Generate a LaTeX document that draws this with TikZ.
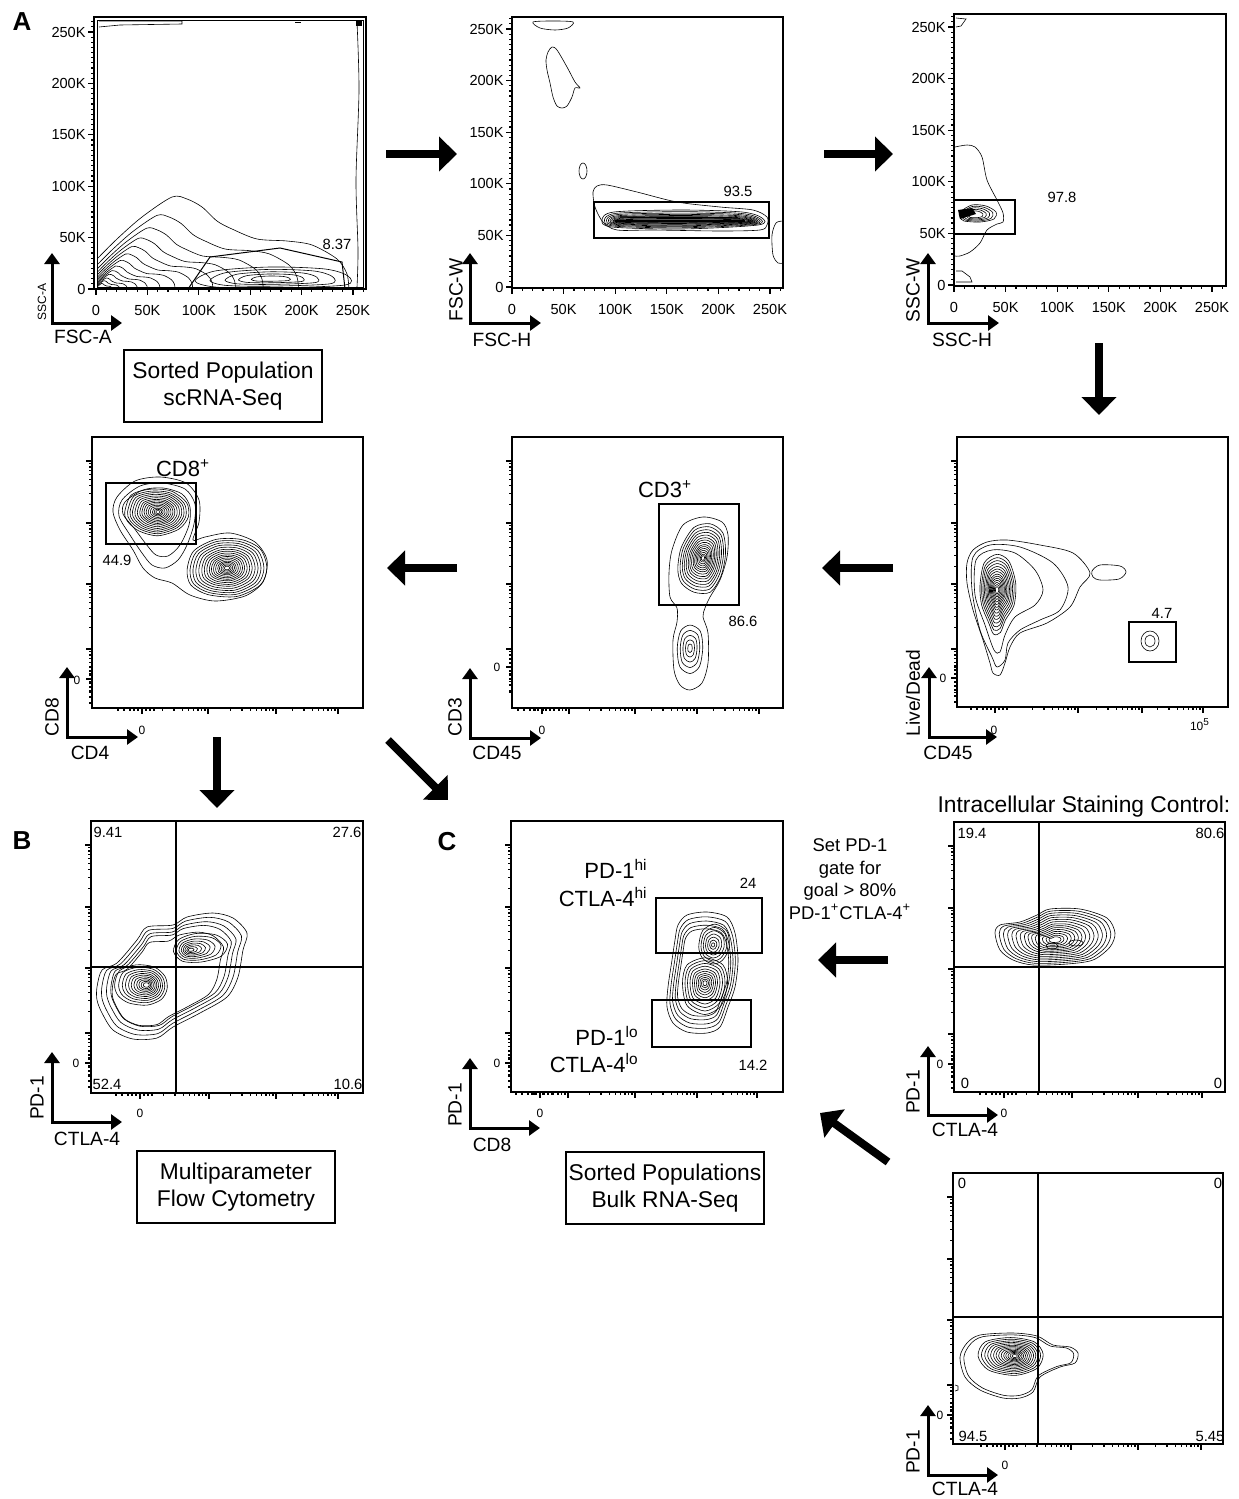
\documentclass[tikz,border=0pt]{standalone}
\usepackage{fontspec}
\setmainfont{Liberation Sans}
\usetikzlibrary{arrows.meta}

\tikzset{
  frame/.style={line width=0.8pt},
  gate/.style={line width=0.8pt},
  contour/.style={line width=0.3pt},
  quad/.style={line width=0.6pt},
  tk/.style={line width=0.6pt},
  axarrow/.style={line width=1.5pt, {Triangle[width=7.5pt,length=5.5pt]}-{Triangle[width=7.5pt,length=5.5pt]}},
  bigarrow/.style={line width=4pt, -{Triangle[width=17pt,length=9pt]}},
  tklbl/.style={font=\fontsize{7.3}{8}\selectfont, inner sep=1pt},
  numlbl/.style={font=\fontsize{7.4}{9}\selectfont, inner sep=0pt},
  zlbl/.style={font=\fontsize{6}{7}\selectfont, inner sep=0pt},
  axlbl/.style={font=\fontsize{9.6}{11}\selectfont, inner sep=0pt},
  poplbl/.style={font=\fontsize{11}{13}\selectfont, inner sep=0pt},
  boxlbl/.style={draw, line width=0.7pt, minimum width=99pt, minimum height=36pt, inner sep=0pt, align=center, font=\fontsize{11.4}{13.5}\selectfont},
  panlbl/.style={font=\fontsize{13}{15}\selectfont\bfseries, inner sep=0pt},
}

% nested contours round a centre
\newcommand{\cfam}[3]{\foreach \s in {#2} \draw[contour, shift={#1}, scale=\s] plot[smooth cycle] coordinates {#3};}

% linear axes: box left, box bottom, x of 0, y of 0, step, name
\newcommand{\linaxes}[6]{%
  \foreach \i/\lb in {0/0,1/50K,2/100K,3/150K,4/200K,5/250K} {
    \draw[tk] (#1,{#4-\i*#5}) -- ++(-6,0);
    \node[tklbl, anchor=east] (#6y\i) at ({#1-6},{#4-\i*#5}) {\lb};
    \draw[tk] ({#3+\i*#5},#2) -- ++(0,6);
    \node[tklbl] (#6x\i) at ({#3+\i*#5},{#2+21}) {\lb};
  }
  \foreach \j in {1,...,52} \draw[tk] (#1,{#4-\j*#5/10}) -- ++(-3,0);
  \foreach \j in {1,...,26} \draw[tk] ({#3+\j*#5/5},#2) -- ++(0,3);
}

% log axes: left, top, y zero, x zero, x majors, height
\newcommand{\logaxes}[6]{%
  \foreach \m in {24,86,147,212} {
    \draw[tk] (#1,#2+\m) -- ++(-6,0);
    \foreach \k in {2,...,9} \draw[tk] (#1,{#2+\m+62-62*log10(\k)}) -- ++(-3,0);
  }
  \draw[tk] (#1,#2+#3) -- ++(-6,0);
  \foreach \d in {-12,-8,-4,4,8,12,18,24} \draw[tk] (#1,{#2+#3+(\d)}) -- ++(-3,0);
  \foreach \m in {#5} {
    \draw[tk] (#1+\m,#2+#6) -- ++(0,6);
    \foreach \k in {2,...,9} \draw[tk] ({#1+\m-65+65*log10(\k)},#2+#6) -- ++(0,3);
  }
  \draw[tk] (#1+#4,#2+#6) -- ++(0,6);
  \foreach \d in {-24,-18,-12,-8,-4,4,8,12} \draw[tk] ({#1+#4+(\d)},#2+#6) -- ++(0,3);
}

\begin{document}
\begin{tikzpicture}[x=0.5pt,y=-0.5pt]
\useasboundingbox (0,0) rectangle (1238,1499);

%% ---------- A: FSC-A / SSC-A
\node[panlbl] (labA) at (22,22) {A};
\draw[frame] (94,17) rectangle (366,289);
\draw[contour] (97,20) rectangle (363,287);
\linaxes{94}{289}{96}{289}{51.4}{pa}
\begin{scope}
  \clip (97,20) rectangle (363,287);
  \foreach \s in {1,.8,.66,.55,.46,.38,.31,.25,.2,.16,.12,.09,.06}
    \draw[contour, shift={(97,289)}, scale=\s] plot[smooth] coordinates {(0,-30) (20,-50) (45,-72) (75,-92) (90,-90) (105,-82) (120,-68) (135,-60) (160,-50) (190,-48) (215,-44) (240,-30) (250,-15) (252,2)};
  \cfam{(270,279)}{1,.8,.6,.42,.25}{(-75,2) (-55,-8) (0,-12) (55,-10) (78,-3) (75,6) (0,9) (-55,8)}
\end{scope}
\draw[contour] (99,21) -- (182,21) -- (182,24) -- (120,25) -- (99,27);
\draw[contour] (295,22) -- (301,22);
\draw[contour] plot[smooth] coordinates {(357,22) (359,90) (356,180) (358,250) (357,287)};
\fill (356,21) rectangle (362,26);
\draw[line width=0.5pt] (188,289) -- (210,257) -- (280,248) -- (342,262) -- (345,289);
\node[numlbl] (gA) at (337,244) {8.37};
\draw[axarrow] (52,253) -- (52,323) -- (122,323);
\node[axlbl, font=\fontsize{6}{7}\selectfont, rotate=90] (yA) at (42,302) {SSC-A};
\node[axlbl] (xA) at (83,337) {FSC-A};
\node[boxlbl] (boxA) at (223,386) {Sorted Population\\scRNA-Seq};

%% ---------- FSC-H / FSC-W
\draw[frame] (512,17) rectangle (783,288);
\linaxes{512}{288}{512}{287}{51.6}{pb}
\draw[contour] plot[smooth cycle] coordinates {(533,22) (553,21) (573,22) (568,28) (555,30) (540,28)};
\draw[contour] plot[smooth cycle] coordinates {(552,47) (557,50) (567,67) (575,82) (580,88) (575,88) (572,97) (567,106) (562,108) (557,106) (553,97) (550,83) (547,70) (546,60) (548,52)};
\draw[contour] (583,171) ellipse [x radius=4, y radius=8];
\draw[contour] plot[smooth cycle] coordinates {(593,192) (597,186) (607,185) (637,192) (677,202) (720,207) (753,210) (767,217) (767,225) (760,230) (720,231) (653,230) (617,230) (603,222) (595,207)};
\foreach \t in {1,.85,.72,.6,.5,.4,.31,.23,.16}
  \draw[contour, shift={(682,221)}, xscale={0.8+0.2*\t}, yscale=\t] plot[smooth cycle] coordinates {(-80,-1) (-68,-9) (0,-11) (60,-9) (80,-3) (76,4) (0,8) (-70,6)};
\draw[line width=1pt] (615,221) -- (745,221);
\draw[line width=0.7pt] (622,217) -- (738,218);
\draw[contour] plot[smooth] coordinates {(783,221) (776,223) (772,235) (773,255) (778,263) (783,263)};
\draw[gate] (594,202) rectangle (769,238);
\node[numlbl] (gB) at (738,191) {93.5};
\draw[axarrow] (470,253) -- (470,323) -- (541,323);
\node[axlbl, rotate=90] (yB) at (456,290) {FSC-W};
\node[axlbl] (xB) at (502,340) {FSC-H};

%% ---------- SSC-H / SSC-W
\draw[frame] (954,14) rectangle (1226,286);
\linaxes{954}{286}{954}{285}{51.6}{pc}
\draw[contour] (956,18) -- (966,19) -- (961,26) -- (956,27);
\draw[contour] plot[smooth] coordinates {(955,147) (967,145) (975,147) (982,157) (987,180) (997,200) (1003,213) (1003,222) (997,224) (987,230) (980,243) (970,252) (960,256) (955,256)};
\cfam{(974,215)}{1,.85,.7,.55,.4}{(-14,-3) (-2,-10) (12,-9) (22,-3) (20,4) (6,7) (-10,6) (-14,2)}
\fill (958,210) -- (972,208) -- (976,214) -- (960,219) -- cycle;
\draw[contour] (956,271) -- (962,271) -- (970,277) -- (972,282) -- (956,282);
\draw[gate] (954,200) rectangle (1015,234);
\node[numlbl] (gC) at (1062,197) {97.8};
\draw[axarrow] (928,253) -- (928,323) -- (999,323);
\node[axlbl, rotate=90] (yC) at (913,290) {SSC-W};
\node[axlbl] (xC) at (962,340) {SSC-H};

%% ---------- CD45 / Live-Dead
\draw[frame] (957,437) rectangle (1228,707);
\logaxes{957}{437}{241}{38}{121,185,246}{270}
\draw[contour] plot[smooth cycle] coordinates {(967,563) (973,550) (987,542) (1007,540) (1040,545) (1073,553) (1090,573) (1080,587) (1070,607) (1047,623) (1020,633) (1010,647) (1005,663) (1000,675) (993,673) (990,663) (983,640) (973,610) (967,583)};
\draw[contour] plot[smooth cycle] coordinates {(973,557) (990,545) (1020,547) (1053,563) (1068,587) (1060,610) (1040,620) (1020,630) (1008,643) (1005,660) (997,667) (992,657) (980,630) (972,590)};
\draw[contour] plot[smooth cycle] coordinates {(976,560) (992,550) (1015,553) (1035,570) (1043,590) (1035,605) (1015,617) (1005,635) (1000,652) (994,650) (985,625) (975,595)};
\cfam{(997,590)}{.85,.77,.7,.63,.56,.5,.44,.38,.33,.28,.23,.18,.13,.08}{(-20,-5) (-15,-32) (0,-42) (14,-34) (22,-8) (20,18) (10,35) (4,50) (-4,52) (-10,38) (-18,18)}
\draw[contour] plot[smooth cycle] coordinates {(1092,571) (1100,565) (1120,566) (1126,572) (1119,579) (1100,580) (1093,577)};
\draw[contour] (1150,641) ellipse [x radius=9, y radius=10];
\draw[contour] (1150,641) ellipse [x radius=5, y radius=6];
\draw[gate] (1129,622) rectangle (1176,662);
\node[numlbl] (gLD) at (1162,613) {4.7};
\node[zlbl] (zyLD) at (943,678) {0};
\node[zlbl] (zxLD) at (994,730) {0};
\node[zlbl] (tLD) at (1200,725) {10\textsuperscript{5}};
\draw[axarrow] (929,667) -- (929,737) -- (997,737);
\node[axlbl, rotate=90] (yLD) at (913,693) {Live/Dead};
\node[axlbl] (xLD) at (948,753) {CD45};

%% ---------- CD45 / CD3
\draw[frame] (512,437) rectangle (783,708);
\logaxes{512}{437}{230}{30}{57,123,185,247}{271}
\draw[contour] plot[smooth cycle] coordinates {(683,525) (703,517) (722,522) (728,535) (727,557) (720,580) (710,597) (705,608) (703,617) (708,633) (708,663) (702,683) (690,690) (680,685) (674,670) (673,640) (677,622) (677,608) (670,597) (669,573) (672,550)};
\cfam{(703,558)}{.9,.82,.74,.67,.6,.53,.47,.41,.35,.3,.25,.2,.15,.1,.06}{(-28,12) (-24,-12) (-10,-34) (8,-38) (22,-28) (25,-5) (20,20) (8,38) (-10,38) (-24,28)}
\cfam{(690,648)}{.85,.65,.47,.3,.15}{(-15,0) (-11,-20) (0,-27) (12,-20) (15,0) (11,22) (0,30) (-12,22)}
\draw[gate] (659,504) rectangle (739,605);
\node[poplbl] (pCD3) at (665,489) {CD3\textsuperscript{+}};
\node[numlbl] (gCD3) at (743,621) {86.6};
\node[zlbl] (zyCD3) at (497,667) {0};
\node[zlbl] (zxCD3) at (542,730) {0};
\draw[axarrow] (470,668) -- (470,738) -- (541,738);
\node[axlbl, rotate=90] (yCD3) at (455,717) {CD3};
\node[axlbl] (xCD3) at (497,753) {CD45};

%% ---------- CD4 / CD8
\draw[frame] (92,437) rectangle (363,708);
\logaxes{92}{437}{242}{50}{116,184,246}{271}
\draw[contour] plot[smooth cycle] coordinates {(117,497) (135,481) (160,477) (186,483) (199,500) (199,522) (193,540) (205,537) (230,533) (255,542) (267,560) (263,582) (245,596) (215,601) (190,595) (172,583) (155,578) (143,568) (133,550) (120,530) (113,512)};
\draw[contour] plot[smooth cycle] coordinates {(122,500) (140,486) (162,483) (185,489) (195,504) (194,524) (187,545) (178,560) (165,568) (152,565) (142,553) (130,535) (119,516)};
\draw[contour] plot[smooth cycle] coordinates {(125,502) (143,490) (163,488) (182,494) (190,507) (189,525) (180,545) (168,556) (156,555) (146,544) (134,528) (123,514)};
\cfam{(158,512)}{.95,.87,.8,.73,.66,.59,.52,.46,.4,.34,.28,.22,.16,.11,.06}{(-35,0) (-28,-18) (-8,-24) (14,-22) (30,-10) (32,5) (22,18) (0,25) (-20,20) (-32,10)}
\cfam{(227,568)}{.95,.88,.81,.74,.67,.6,.54,.48,.42,.37,.32,.27,.22,.18,.14,.1,.06}{(-42,2) (-35,-18) (-12,-30) (15,-30) (35,-20) (42,0) (35,18) (10,30) (-20,28) (-38,18)}
\draw[gate] (106,483) rectangle (196,544);
\node[poplbl] (pCD8) at (183,468) {CD8\textsuperscript{+}};
\node[numlbl] (gCD8) at (117,560) {44.9};
\node[zlbl] (zyCD8) at (77,680) {0};
\node[zlbl] (zxCD8) at (142,730) {0};
\draw[axarrow] (67,667) -- (67,737) -- (138,737);
\node[axlbl, rotate=90] (yCD8) at (52,717) {CD8};
\node[axlbl] (xCD8) at (90,753) {CD4};

%% ---------- B: CTLA-4 / PD-1
\node[panlbl] (labB) at (22,841) {B};
\draw[frame] (91,821) rectangle (363,1093);
\logaxes{91}{821}{242}{49}{118,185,247}{272}
\cfam{(168,975)}{1,.93,.86,.8}{(-71,12) (-66,-5) (-51,-12) (-31,-35) (-21,-48) (5,-50) (19,-58) (45,-62) (65,-57) (79,-42) (75,-25) (70,2) (59,22) (32,38) (5,52) (-11,63) (-35,64) (-55,55) (-66,38) (-71,25)}
\cfam{(165,978)}{.74}{(-71,12) (-66,-5) (-51,-12) (-31,-35) (-21,-48) (5,-50) (19,-58) (45,-62) (65,-57) (79,-42) (75,-25) (70,2) (59,22) (32,38) (5,52) (-11,63) (-35,64) (-55,55) (-66,38) (-71,25)}
\cfam{(147,985)}{.72,.63,.55,.48,.41,.35,.29,.23,.18,.13,.08}{(-45,0) (-38,-20) (-15,-28) (10,-25) (25,-12) (28,5) (20,20) (0,28) (-25,25) (-40,15)}
\cfam{(190,950)}{.75,.62,.5,.4,.31,.23,.15,.08}{(-22,2) (-15,-14) (8,-22) (35,-20) (50,-8) (42,8) (15,16) (-10,15)}
\draw[quad] (176,821) -- (176,1093);
\draw[quad] (91,967) -- (363,967);
\node[numlbl] (qB1) at (108,832) {9.41};
\node[numlbl] (qB2) at (347,832) {27.6};
\node[numlbl] (qB3) at (107,1084) {52.4};
\node[numlbl] (qB4) at (348,1084) {10.6};
\node[zlbl] (zyB) at (76,1063) {0};
\node[zlbl] (zxB) at (140,1113) {0};
\draw[axarrow] (52,1052) -- (52,1122) -- (122,1122);
\node[axlbl, rotate=90] (yB) at (37,1098) {PD-1};
\node[axlbl] (xB) at (87,1139) {CTLA-4};
\node[boxlbl] (boxB) at (236,1187) {Multiparameter\\Flow Cytometry};

%% ---------- C: CD8 / PD-1
\node[panlbl] (labC) at (447,842) {C};
\draw[frame] (511,821) rectangle (783,1092);
\logaxes{511}{821}{242}{29}{57,124,186,246}{271}
\cfam{(705,972)}{1,.92,.85,.78,.72}{(-18,-57) (2,-60) (22,-55) (30,-39) (33,-12) (30,15) (23,35) (15,55) (2,61) (-18,60) (-32,51) (-38,35) (-37,15) (-33,-12) (-30,-32) (-27,-47)}
\cfam{(713,945)}{.95,.8,.65,.5,.36,.22,.1}{(-15,2) (-11,-15) (2,-22) (15,-14) (17,3) (10,16) (0,20) (-11,14)}
\cfam{(705,983)}{.9,.8,.7,.6,.5,.42,.34,.27,.2,.14,.08}{(-25,0) (-20,-20) (0,-28) (20,-20) (25,0) (18,25) (0,35) (-20,25)}
\draw[gate] (656,898) rectangle (762,953);
\draw[gate] (652,1000) rectangle (751,1047);
\node[numlbl] (gHi) at (748,883) {24};
\node[numlbl] (gLo) at (753,1065) {14.2};
\node[poplbl, anchor=east] (hi1) at (648,869) {PD-1\textsuperscript{hi}};
\node[poplbl, anchor=east] (hi2) at (648,897) {CTLA-4\textsuperscript{hi}};
\node[poplbl, anchor=east] (lo1) at (639,1036) {PD-1\textsuperscript{lo}};
\node[poplbl, anchor=east] (lo2) at (639,1063) {CTLA-4\textsuperscript{lo}};
\node[zlbl] (zyC) at (497,1063) {0};
\node[zlbl] (zxC) at (540,1113) {0};
\draw[axarrow] (470,1058) -- (470,1128) -- (540,1128);
\node[axlbl, rotate=90] (yC2) at (455,1105) {PD-1};
\node[axlbl] (xC2) at (492,1145) {CD8};
\node[boxlbl] (boxC) at (665,1188) {Sorted Populations\\Bulk RNA-Seq};

\node[align=center, font=\fontsize{9.2}{11.3}\selectfont] (note) at (850,879) {Set PD-1\\gate for\\goal > 80\%\\PD-1\textsuperscript{+}CTLA-4\textsuperscript{+}};

%% ---------- staining control
\node[font=\fontsize{11.4}{13}\selectfont] (ctrl) at (1084,807) {Intracellular Staining Control:};
\draw[frame] (954,822) rectangle (1225,1092);
\logaxes{954}{822}{242}{50}{118,184,248}{270}
\cfam{(1055,940)}{1,.93,.86,.79,.72,.65,.58,.51,.45,.39,.33,.27,.21,.15,.1}{(-60,-7) (-55,-15) (-35,-18) (-18,-25) (-5,-31) (25,-31) (52,-22) (60,-7) (55,7) (38,20) (12,24) (-22,25) (-42,20) (-55,10)}
\draw[contour] (1052,946) ellipse [x radius=6, y radius=3];
\draw[contour] (1076,943) ellipse [x radius=7, y radius=3];
\draw[quad] (1039,822) -- (1039,1092);
\draw[quad] (954,967) -- (1225,967);
\node[numlbl] (qS1) at (972,833) {19.4};
\node[numlbl] (qS2) at (1210,833) {80.6};
\node[numlbl] (qS3) at (965,1083) {0};
\node[numlbl] (qS4) at (1218,1083) {0};
\node[zlbl] (zyS) at (940,1064) {0};
\node[zlbl] (zxS) at (1004,1113) {0};
\draw[axarrow] (928,1046) -- (928,1115) -- (998,1115);
\node[axlbl, rotate=90] (yS) at (913,1092) {PD-1};
\node[axlbl] (xS) at (965,1130) {CTLA-4};

%% ---------- unstained
\draw[frame] (953,1173) rectangle (1223,1444);
\logaxes{953}{1173}{242}{52}{118,185,248}{271}
\cfam{(1015,1360)}{1,.93}{(-55,-3) (-48,-17) (-35,-25) (-2,-27) (22,-24) (38,-15) (55,-13) (63,-7) (60,3) (45,7) (25,17) (18,32) (5,38) (-12,38) (-35,30) (-50,17)}
\cfam{(1015,1356)}{.88,.8,.72,.65,.58,.51,.45,.39,.33,.27,.22,.17,.12,.07}{(-42,0) (-34,-16) (-5,-21) (22,-16) (32,-2) (25,14) (0,22) (-30,16)}
\draw[contour] (955,1385) -- (958,1386) -- (958,1390) -- (955,1391);
\draw[quad] (1038,1173) -- (1038,1444);
\draw[quad] (953,1317) -- (1223,1317);
\node[numlbl] (qU1) at (962,1183) {0};
\node[numlbl] (qU2) at (1218,1183) {0};
\node[numlbl] (qU3) at (973,1436) {94.5};
\node[numlbl] (qU4) at (1210,1436) {5.45};
\node[zlbl] (zyU) at (940,1415) {0};
\node[zlbl] (zxU) at (1005,1465) {0};
\draw[axarrow] (928,1405) -- (928,1475) -- (998,1475);
\node[axlbl, rotate=90] (yU) at (913,1452) {PD-1};
\node[axlbl] (xU) at (965,1489) {CTLA-4};

%% ---------- block arrows
\coordinate (r1a) at (386,154);  \coordinate (r1b) at (457,154);
\coordinate (r2a) at (824,154);  \coordinate (r2b) at (893,154);
\coordinate (r3a) at (1099,343); \coordinate (r3b) at (1099,415);
\coordinate (r4a) at (893,568);  \coordinate (r4b) at (822,568);
\coordinate (r5a) at (457,568);  \coordinate (r5b) at (387,568);
\coordinate (r6a) at (217,737);  \coordinate (r6b) at (217,808);
\coordinate (r7a) at (388,740);  \coordinate (r7b) at (448,800);
\coordinate (r8a) at (888,960);  \coordinate (r8b) at (818,960);
\coordinate (r9a) at (888,1162); \coordinate (r9b) at (820,1113);
\foreach \n in {1,...,9} \draw[bigarrow] (r\n a) -- (r\n b);
\end{tikzpicture}
\end{document}
